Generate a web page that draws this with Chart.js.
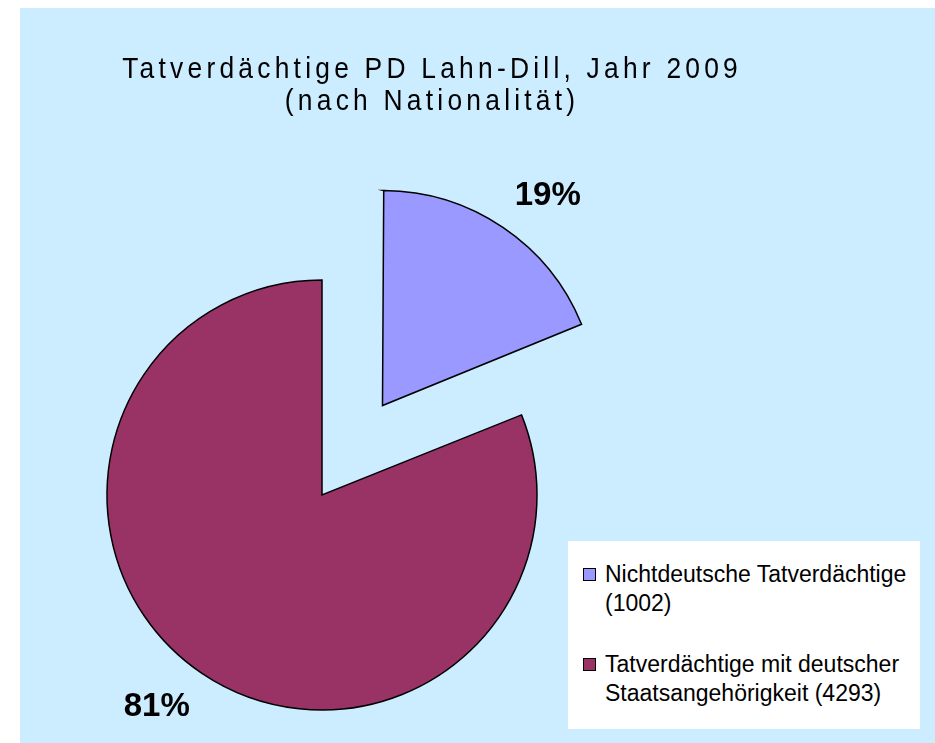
<!DOCTYPE html>
<html><head><meta charset="utf-8">
<script src="https://cdn.jsdelivr.net/npm/chart.js@4"></script>
<style>
html,body{margin:0;padding:0;background:#fff;}
#stage{position:relative;width:935px;height:743px;overflow:hidden;}
#panel{position:absolute;left:20px;top:8px;right:0;bottom:0;background:#CCECFF;}
#chart{position:absolute;left:0;top:0;}
#title{position:absolute;left:0;top:52px;width:860px;text-align:center;font-family:"Liberation Sans",Arial,sans-serif;font-size:30px;line-height:32px;letter-spacing:4.8px;color:#000;padding-left:4.8px;box-sizing:border-box;transform:scaleX(0.88);transform-origin:430px 0;}
#legend{position:absolute;left:568px;top:541px;width:352px;height:188px;background:#fff;}
.item{position:absolute;left:37px;font-family:"Liberation Sans",Arial,sans-serif;font-size:23px;line-height:29px;color:#000;white-space:nowrap;}
.sw{position:absolute;left:-22px;top:8px;width:11px;height:11px;border:1px solid #000;}
</style>
</head><body>
<div id="stage">
  <div id="panel"></div>
  <canvas id="chart" width="935" height="743"></canvas>
  <div id="title"></div>
  <div id="legend"></div>
</div>
<script>
// ---- data ----
const titleLines = ["Tatverdächtige PD Lahn-Dill, Jahr 2009", "(nach Nationalität)"];
const categories = ["Nichtdeutsche Tatverdächtige", "Tatverdächtige mit deutscher Staatsangehörigkeit"];
const legendLines = [["Nichtdeutsche Tatverdächtige", "(1002)"], ["Tatverdächtige mit deutscher", "Staatsangehörigkeit (4293)"]];
const counts = [1002, 4293];
const percentLabels = ["19%", "81%"];
const colors = ["#9999FF", "#993366"];
const explode = [108, 0];

// title
document.getElementById('title').innerHTML = titleLines.map(t => '<div>' + t + '</div>').join('');

// legend
const legendEl = document.getElementById('legend');
const itemTops = [19, 109];
legendLines.forEach((lines, i) => {
  const d = document.createElement('div');
  d.className = 'item';
  d.style.top = itemTops[i] + 'px';
  d.innerHTML = '<span class="sw" style="background:' + colors[i] + '"></span>' + lines.join('<br>');
  legendEl.appendChild(d);
});

const RADIUS = 215;

const pieTweaks = {
  id: 'pieTweaks',
  beforeDatasetsDraw(chart) {
    const meta = chart.getDatasetMeta(0);
    meta.data.forEach(el => {
      const off = (el.options.offset || 0) / 4;
      const fix = 1 - Math.sin(Math.min(Math.PI, el.circumference || 0));
      el.outerRadius = RADIUS - off * fix;
    });
  },
  afterDatasetsDraw(chart) {
    const meta = chart.getDatasetMeta(0);
    const ctx = chart.ctx;
    ctx.save();
    ctx.font = 'bold 33px "Liberation Sans", Arial, sans-serif';
    ctx.fillStyle = '#000';
    ctx.textAlign = 'center';
    ctx.textBaseline = 'middle';
    meta.data.forEach((el, i) => {
      const mid = (el.startAngle + el.endAngle) / 2;
      const off = (el.options.offset || 0) / 4;
      const ax = el.x + Math.cos(mid) * off;
      const ay = el.y + Math.sin(mid) * off;
      const a = mid + 4 * Math.PI / 180;
      const d = RADIUS + 53;
      ctx.fillText(percentLabels[i], ax + Math.cos(a) * d, ay + Math.sin(a) * d + 1);
    });
    ctx.restore();
  }
};

new Chart(document.getElementById('chart'), {
  type: 'pie',
  data: {
    labels: categories,
    datasets: [{
      data: counts,
      backgroundColor: colors,
      borderColor: '#000',
      borderWidth: 1.5,
      borderJoinStyle: 'miter',
      offset: explode.map(e => e * 4),
      hoverOffset: 0
    }]
  },
  options: {
    responsive: false,
    animation: false,
    events: [],
    radius: RADIUS,
    layout: { padding: { left: 0, right: 291, top: 247, bottom: 0 } },
    plugins: { legend: { display: false }, title: { display: false }, tooltip: { enabled: false } }
  },
  plugins: [pieTweaks]
});
</script>
</body></html>
